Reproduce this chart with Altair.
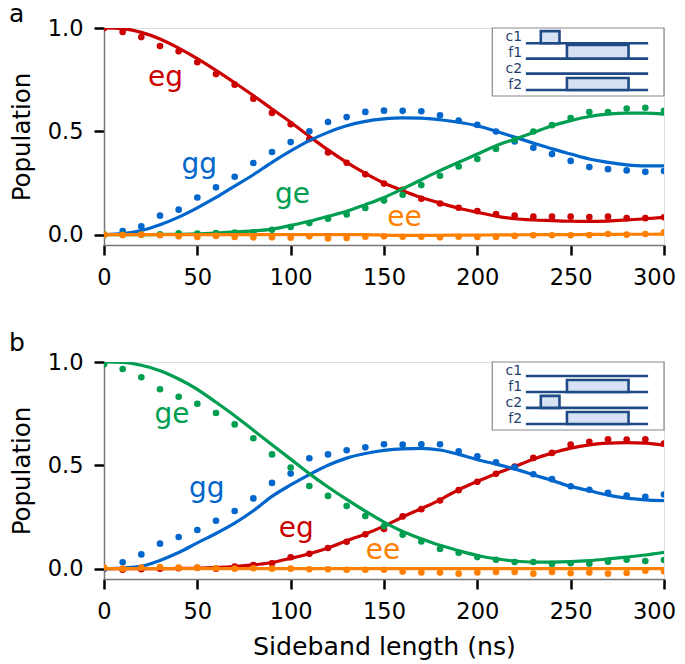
import altair as alt
import pandas as pd

times = list(range(0, 301, 10))

# Panel a: measured points
a_eg_pts = [1.0,.981,.956,.913,.887,.834,.777,.726,.658,.589,.534,.463,.398,.348,.292,.247,.217,.174,.151,.13,.114,.10,.092,.087,.087,.087,.085,.087,.08,.08,.084]
a_gg_pts = [0,.018,.04,.092,.121,.18,.229,.28,.347,.40,.448,.50,.545,.569,.594,.60,.599,.597,.578,.552,.531,.499,.451,.42,.39,.357,.327,.317,.311,.304,.308]
a_ge_pts = [0,0,.0,.002,.006,.005,.008,.01,.011,.024,.037,.056,.077,.098,.129,.165,.193,.24,.285,.33,.366,.415,.459,.499,.53,.564,.593,.593,.61,.614,.599]
a_ee_pts = [0,-.002,0,-.003,-.008,-.011,-.006,-.011,-.013,-.013,-.015,-.008,-.018,-.016,-.01,-.008,-.01,-.01,-.013,-.01,-.011,-.011,-.006,-.003,-.003,-.003,-.002,.003,0,.003,.011]
# Panel a: fitted curves
a_eg_fit = [1.0,.997,.979,.947,.903,.852,.795,.735,.673,.608,.544,.476,.41,.35,.297,.25,.213,.18,.153,.128,.108,.09,.077,.071,.068,.065,.064,.066,.071,.077,.084]
a_gg_fit = [0,.005,.02,.048,.085,.13,.18,.235,.29,.35,.405,.455,.495,.527,.548,.56,.565,.564,.556,.544,.527,.5,.472,.443,.415,.39,.366,.35,.338,.333,.333]
a_ge_fit = [0,0,0,.001,.002,.004,.008,.013,.018,.027,.045,.065,.089,.113,.145,.18,.222,.266,.31,.35,.39,.43,.462,.494,.527,.552,.572,.583,.588,.588,.583]
a_ee_fit = [0]*15 + [-.002,-.003,-.003,-.003,-.002,-.002,-.001,-.001,0,0,0,.001,.001,.002,.002,.003]

# Panel b: measured points
b_ge_pts = [.989,.966,.926,.868,.832,.798,.753,.698,.631,.553,.489,.40,.352,.303,.255,.205,.164,.132,.095,.077,.056,.043,.032,.032,.023,.026,.024,.034,.043,.037,.042]
b_gg_pts = [0,.031,.069,.121,.153,.187,.232,.279,.34,.415,.46,.534,.553,.573,.587,.602,.60,.602,.602,.568,.544,.515,.49,.457,.433,.399,.382,.367,.354,.348,.359]
b_eg_pts = [0,-.005,-.003,0,.002,.004,0,.01,.018,.026,.055,.072,.1,.13,.166,.192,.253,.288,.33,.38,.42,.459,.494,.536,.56,.60,.614,.626,.625,.626,.605]
b_ee_pts = [.005,0,.005,.008,.005,.005,.002,0,.002,0,0,-.003,-.003,-.005,-.005,-.005,-.014,-.018,-.019,-.024,-.018,-.016,-.016,-.024,-.016,-.022,-.019,-.024,-.021,-.01,-.013]
# Panel b: fitted curves
b_ge_fit = [1.0,.998,.984,.958,.918,.868,.805,.74,.67,.60,.53,.46,.395,.335,.278,.225,.18,.145,.113,.087,.064,.048,.037,.032,.032,.034,.039,.047,.056,.066,.079]
b_gg_fit = [0,.003,.012,.04,.078,.125,.17,.22,.28,.35,.405,.455,.50,.535,.557,.572,.58,.582,.574,.553,.527,.506,.483,.454,.427,.398,.377,.356,.341,.333,.329]
b_eg_fit = [0,0,0,0,.001,.002,.005,.01,.018,.03,.05,.072,.1,.135,.168,.206,.25,.291,.333,.382,.422,.459,.494,.53,.559,.583,.599,.607,.61,.607,.597]
b_ee_fit = [0]*31

colors = {"eg": "#CC0000", "gg": "#0066CC", "ge": "#009E50", "ee": "#FF8000"}

# Series name, x, y of the curve labels
a_labels = [("eg", 33, .758), ("gg", 51, .338), ("ge", 101, .193), ("ee", 161, .082)]
b_labels = [("ge", 36.4, .744), ("gg", 55, .386), ("eg", 103, .193), ("ee", 149.5, .087)]

# Pulse-sequence inset, in the panel's units
box_x = [208, 300]
box_y = [.671, 1.0]
wire_x = [226, 291.5]
wire_names = ["c1", "f1", "c2", "f2"]
a_wires = [.926, .852, .779, .70]
b_wires = [.932, .855, .778, .70]
short_pulse = [234, 244]
long_pulse = [248, 281]
a_pulses = [(short_pulse, .926, .985), (long_pulse, .852, .918), (long_pulse, .70, .758)]
b_pulses = [(long_pulse, .855, .913), (short_pulse, .778, .836), (long_pulse, .70, .758)]
label_x = 224
a_label_y = [.957, .88, .803, .726]
b_label_y = [.957, .88, .803, .726]

X = alt.Scale(domain=[0, 300], nice=False, zero=False)
Y = alt.Scale(domain=[-0.05, 1.0], nice=False, zero=False)
FONT = "DejaVu Sans"


def panel(letter, letter_y, pts, fits, labels, wires, pulses, label_y, show_title):
    layers = []
    for name in ["eg", "gg", "ge", "ee"]:
        c = colors[name]
        fd = pd.DataFrame({"t": times, "v": fits[name]})
        pd_ = pd.DataFrame({"t": times, "v": pts[name]})
        xenc = alt.X("t:Q", scale=X, axis=alt.Axis(
            values=list(range(0, 301, 50)), title="Sideband length (ns)" if show_title else None,
            grid=False, labelFontSize=22.5, titleFontSize=25.2, titleFontWeight="normal",
            titlePadding=12, tickSize=10, tickWidth=2.5, tickColor="black", domainColor="#777777",
            domainWidth=1.5, labelColor="black", labelPadding=11, labelFlush=False,
            labelOffset=alt.expr("datum.value == 300 ? -10 : 0")))
        yenc = alt.Y("v:Q", scale=Y, axis=alt.Axis(
            values=[0, .5, 1], format=".1f", title="Population", grid=False, labelFontSize=22.5,
            titleFontSize=24.5, titleFontWeight="normal", titlePadding=13, tickSize=10, tickWidth=2.5,
            tickColor="black", domainColor="#777777", domainWidth=1.5, labelPadding=11))
        layers.append(alt.Chart(fd).mark_line(color=c, strokeWidth=3.2, clip=True, interpolate="monotone").encode(x=xenc, y=yenc))
        layers.append(alt.Chart(pd_).mark_point(filled=True, color=c, size=44, opacity=1, clip=True).encode(x="t:Q", y="v:Q"))

    ld = pd.DataFrame(labels, columns=["s", "t", "v"])
    for name in ["eg", "gg", "ge", "ee"]:
        layers.append(alt.Chart(ld[ld.s == name]).mark_text(font=FONT, fontSize=28, color=colors[name]).encode(
            x="t:Q", y="v:Q", text="s:N"))

    # inset
    box = pd.DataFrame({"a": [box_x[0]], "b": [box_x[1]], "c": [box_y[0]], "d": [box_y[1]]})
    layers.append(alt.Chart(box).mark_rect(fill="white", stroke="#888888", strokeWidth=1.2).encode(
        x=alt.X("a:Q", scale=X), x2="b:Q", y=alt.Y("c:Q", scale=Y), y2="d:Q"))
    wd = pd.DataFrame({"a": [wire_x[0]] * 4, "b": [wire_x[1]] * 4, "c": wires})
    layers.append(alt.Chart(wd).mark_rule(color="#1F4A85", strokeWidth=2.6).encode(
        x=alt.X("a:Q", scale=X), x2="b:Q", y=alt.Y("c:Q", scale=Y)))
    pu = pd.DataFrame([{"a": p[0][0], "b": p[0][1], "c": p[1], "d": p[2]} for p in pulses])
    layers.append(alt.Chart(pu).mark_rect(fill="#D6E2F3", stroke="#1F4A85", strokeWidth=2.6).encode(
        x=alt.X("a:Q", scale=X), x2="b:Q", y=alt.Y("c:Q", scale=Y), y2="d:Q"))
    td = pd.DataFrame({"t": [label_x] * 4, "v": label_y, "s": wire_names})
    layers.append(alt.Chart(td).mark_text(font=FONT, fontSize=14, color="#1F3F70", align="right").encode(
        x=alt.X("t:Q", scale=X), y=alt.Y("v:Q", scale=Y), text="s:N"))
    # panel letter
    layers.append(alt.Chart(pd.DataFrame({"s": [letter]})).mark_text(
        font=FONT, fontSize=25, color="black", align="left", baseline="alphabetic").encode(
        x=alt.value(-95), y=alt.value(letter_y), text="s:N"))
    return alt.layer(*layers).properties(width=560, height=217)


a = panel("a", -6,
          {"eg": a_eg_pts, "gg": a_gg_pts, "ge": a_ge_pts, "ee": a_ee_pts},
          {"eg": a_eg_fit, "gg": a_gg_fit, "ge": a_ge_fit, "ee": a_ee_fit},
          a_labels, a_wires, a_pulses, a_label_y, False)
b = panel("b", -11,
          {"eg": b_eg_pts, "gg": b_gg_pts, "ge": b_ge_pts, "ee": b_ee_pts},
          {"eg": b_eg_fit, "gg": b_gg_fit, "ge": b_ge_fit, "ee": b_ee_fit},
          b_labels, b_wires, b_pulses, b_label_y, True)

chart = alt.vconcat(a, b, spacing=41).properties(
    padding={"left": 0, "top": -7, "right": 0, "bottom": 0}
).configure_view(stroke="#999999", strokeWidth=1.5).configure(font=FONT)
chart.save("out.html", embed_options={"renderer": "svg", "actions": False})
